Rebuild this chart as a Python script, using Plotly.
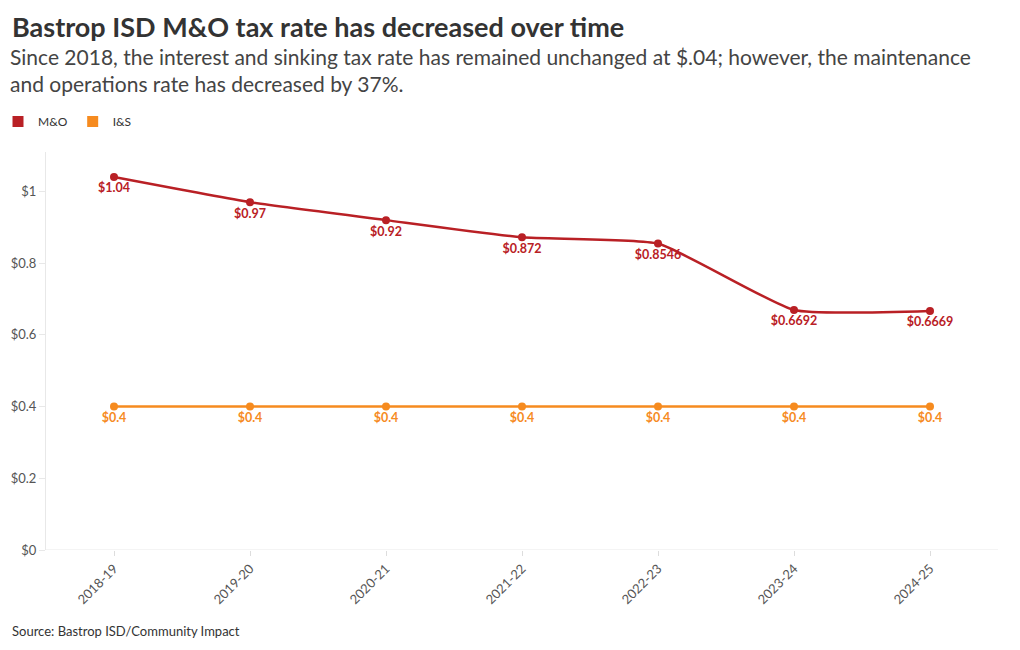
import plotly.graph_objects as go

years = ["2018-19", "2019-20", "2020-21", "2021-22", "2022-23", "2023-24", "2024-25"]
mo_values = [1.04, 0.97, 0.92, 0.872, 0.8546, 0.6692, 0.6669]
is_values = [0.4, 0.4, 0.4, 0.4, 0.4, 0.4, 0.4]
y_ticks = [0, 0.2, 0.4, 0.6, 0.8, 1]
y_tick_labels = ["$0", "$0.2", "$0.4", "$0.6", "$0.8", "$1"]

RED = "#b92025"
ORANGE = "#f68b1f"
FONT = "Lato, 'Source Sans Pro', 'Open Sans', sans-serif"

fig = go.Figure()
for name, vals, col in [("M&O", mo_values, RED), ("I&S", is_values, ORANGE)]:
    fig.add_trace(go.Scatter(
        x=years, y=vals, name=name, mode="lines+markers+text",
        line=dict(color=col, width=2.5, shape="spline", smoothing=0.45),
        marker=dict(color=col, size=8),
        text=["$" + f"{v:g}" for v in vals],
        textposition="bottom center",
        textfont=dict(color=col, size=12.5, family=FONT, weight="bold"),
        cliponaxis=False, showlegend=False,
    ))
    # legend swatch
    fig.add_trace(go.Scatter(
        x=[None], y=[None], name=name, mode="markers",
        marker=dict(color=col, size=11, symbol="square"),
        showlegend=True,
    ))

ML, MR, MT, MB = 38, 30, 144, 108
PW = 1020 - ML - MR

fig.update_layout(
    width=1020, height=650,
    paper_bgcolor="white", plot_bgcolor="white",
    margin=dict(l=ML, r=MR, t=MT, b=MB, autoexpand=False),
    font=dict(family=FONT, color="#444"),
    showlegend=True,
    legend=dict(orientation="h", x=(-10 - ML) / PW, xref="paper", xanchor="left",
                y=1 - 99 / 650, yref="container", yanchor="top",
                font=dict(size=12, color="#333"), itemwidth=30,
                tracegroupgap=0),
    xaxis=dict(range=[-0.5, 6.5], showgrid=False, showline=False, zeroline=False,
               automargin=False,
               tickangle=-45, tickfont=dict(size=13, color="#555"),
               ticks="outside", ticklen=5, tickcolor="#ddd"),
    yaxis=dict(range=[0, 1.11], tickvals=y_ticks, ticktext=y_tick_labels,
               automargin=False,
               showgrid=False, showline=True, linecolor="#e8e8e8", linewidth=1,
               zeroline=False, ticks="outside", ticklen=6, tickcolor="#e8e8e8",
               tickfont=dict(size=13, color="#555")),
)
fig.add_shape(type="line", xref="paper", yref="y", x0=0, x1=1, y0=0, y1=0,
              line=dict(color="#e8e8e8", width=1))

fig.add_annotation(text="<b>Bastrop ISD M&O tax rate has decreased over time</b>",
                   xref="paper", yref="paper", x=0, xshift=2 - ML, y=1, yshift=MT,
                   xanchor="left", yanchor="top", showarrow=False,
                   font=dict(size=27, color="#333"))
fig.add_annotation(text="Since 2018, the interest and sinking tax rate has remained unchanged at $.04; however, the maintenance<br>and operations rate has decreased by 37%.",
                   xref="paper", yref="paper", x=0, xshift=0 - ML, y=1, yshift=MT - 34,
                   xanchor="left", yanchor="top", showarrow=False, align="left",
                   font=dict(size=21, color="#444"))
fig.add_annotation(text="Source: Bastrop ISD/Community Impact",
                   xref="paper", yref="paper", x=0, xshift=2 - ML, y=0, yshift=-MB + 37,
                   xanchor="left", yanchor="top", showarrow=False,
                   font=dict(size=13, color="#333"))

fig.write_html("out.html")
